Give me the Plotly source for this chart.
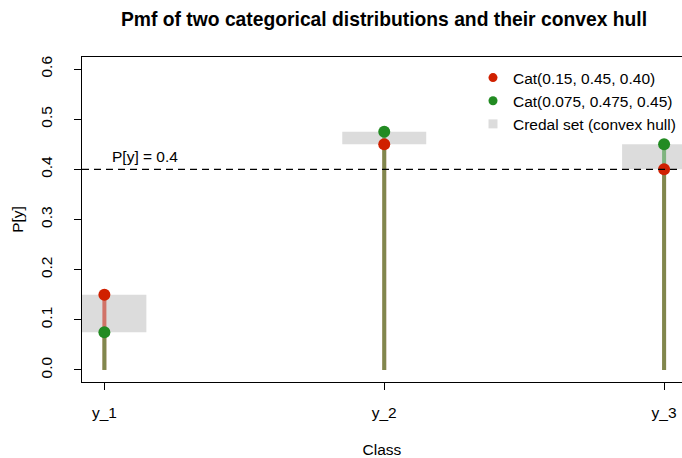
import plotly.graph_objects as go

classes = ["y_1", "y_2", "y_3"]
p_cat1 = [0.15, 0.45, 0.40]
p_cat2 = [0.075, 0.475, 0.45]
threshold = 0.4
name1 = "Cat(0.15, 0.45, 0.40)"
name2 = "Cat(0.075, 0.475, 0.45)"
name_hull = "Credal set (convex hull)"

xpos = list(range(1, len(classes) + 1))
FONT = "Liberation Sans, Arial, sans-serif"
FS = 15.5
RED = "rgb(208,32,0)"
GREEN = "rgb(34,139,34)"
RED_STEM = "rgba(200,30,10,0.55)"
GREEN_STEM = "rgba(34,139,34,0.5)"
HALF = 0.15

W, H = 682, 458
L, T, B = 82, 57, 76

fig = go.Figure()

def stems(vals):
    xs, ys = [], []
    for x, v in zip(xpos, vals):
        xs += [x, x, None]
        ys += [0, v, None]
    return xs, ys

# credal set rectangles
for x, a, b in zip(xpos, p_cat1, p_cat2):
    fig.add_shape(type="rect", xref="x", yref="y", x0=x - HALF, x1=x + HALF,
                  y0=min(a, b), y1=max(a, b), fillcolor="rgb(220,220,220)",
                  line=dict(width=0), layer="below")

# threshold line
fig.add_shape(type="line", xref="paper", yref="y", x0=0, x1=1, y0=threshold, y1=threshold,
              line=dict(color="black", width=1.3, dash="7px,5px"))

sx, sy = stems(p_cat1)
fig.add_trace(go.Scatter(x=sx, y=sy, mode="lines", line=dict(color=RED_STEM, width=4),
                         showlegend=False, hoverinfo="skip"))
sx, sy = stems(p_cat2)
fig.add_trace(go.Scatter(x=sx, y=sy, mode="lines", line=dict(color=GREEN_STEM, width=4),
                         showlegend=False, hoverinfo="skip"))
fig.add_trace(go.Scatter(x=xpos, y=p_cat2, mode="markers", marker=dict(color=GREEN, size=12),
                         showlegend=False))
fig.add_trace(go.Scatter(x=xpos, y=p_cat1, mode="markers", marker=dict(color=RED, size=12),
                         showlegend=False))

# legend entries
fig.add_trace(go.Scatter(x=[None], y=[None], mode="markers", name=name1,
                         marker=dict(color=RED, size=9)))
fig.add_trace(go.Scatter(x=[None], y=[None], mode="markers", name=name2,
                         marker=dict(color=GREEN, size=9)))
fig.add_trace(go.Scatter(x=[None], y=[None], mode="markers", name=name_hull,
                         marker=dict(color="rgb(220,220,220)", size=9, symbol="square")))

fig.add_annotation(x=1.145, y=threshold, xref="x", yref="y", text=f"P[y] = {threshold}",
                   showarrow=False, yanchor="bottom", yshift=2,
                   font=dict(family=FONT, size=FS, color="black"))

fig.update_layout(
    width=W, height=H,
    margin=dict(l=L, r=0, t=T, b=B, pad=0),
    paper_bgcolor="white", plot_bgcolor="white",
    font=dict(family=FONT, size=FS, color="black"),
    title=dict(text="<b>Pmf of two categorical distributions and their convex hull</b>",
               x=384 / W, xref="container", xanchor="center",
               y=1 - 19 / H, yref="container", yanchor="middle",
               font=dict(family=FONT, size=19.3, color="black")),
    legend=dict(x=(473 - L) / 600, y=1 - 4 / 325, xanchor="left", yanchor="top",
                bgcolor="rgba(0,0,0,0)", font=dict(family=FONT, size=FS),
                tracegroupgap=0, itemwidth=30),
    showlegend=True,
)
fig.update_xaxes(range=[0.92, 3.064], tickvals=xpos, ticktext=classes, automargin=False,
                 showgrid=False, zeroline=False, showline=True, linecolor="black",
                 linewidth=1, mirror=True, ticks="outside", ticklen=7, tickcolor="black",
                 tickfont=dict(family=FONT, size=FS), ticklabelstandoff=9,
                 title=dict(text="Class", standoff=25, font=dict(family=FONT, size=FS)))
fig.update_yaxes(range=[-0.024, 0.624], tickvals=[0, 0.1, 0.2, 0.3, 0.4, 0.5, 0.6],
                 tickformat=".1f", tickangle=-90, automargin=False,
                 showgrid=False, zeroline=False, showline=True, linecolor="black",
                 linewidth=1, ticks="outside", ticklen=7, tickcolor="black",
                 tickfont=dict(family=FONT, size=FS), ticklabelstandoff=16,
                 title=dict(text="P[y]", standoff=10, font=dict(family=FONT, size=FS)))

fig.write_html(
    "out.html",
    config={"displayModeBar": False},
    post_script="document.body.style.margin='0';document.body.style.overflow='hidden';"
                "document.documentElement.style.overflow='hidden';",
)
